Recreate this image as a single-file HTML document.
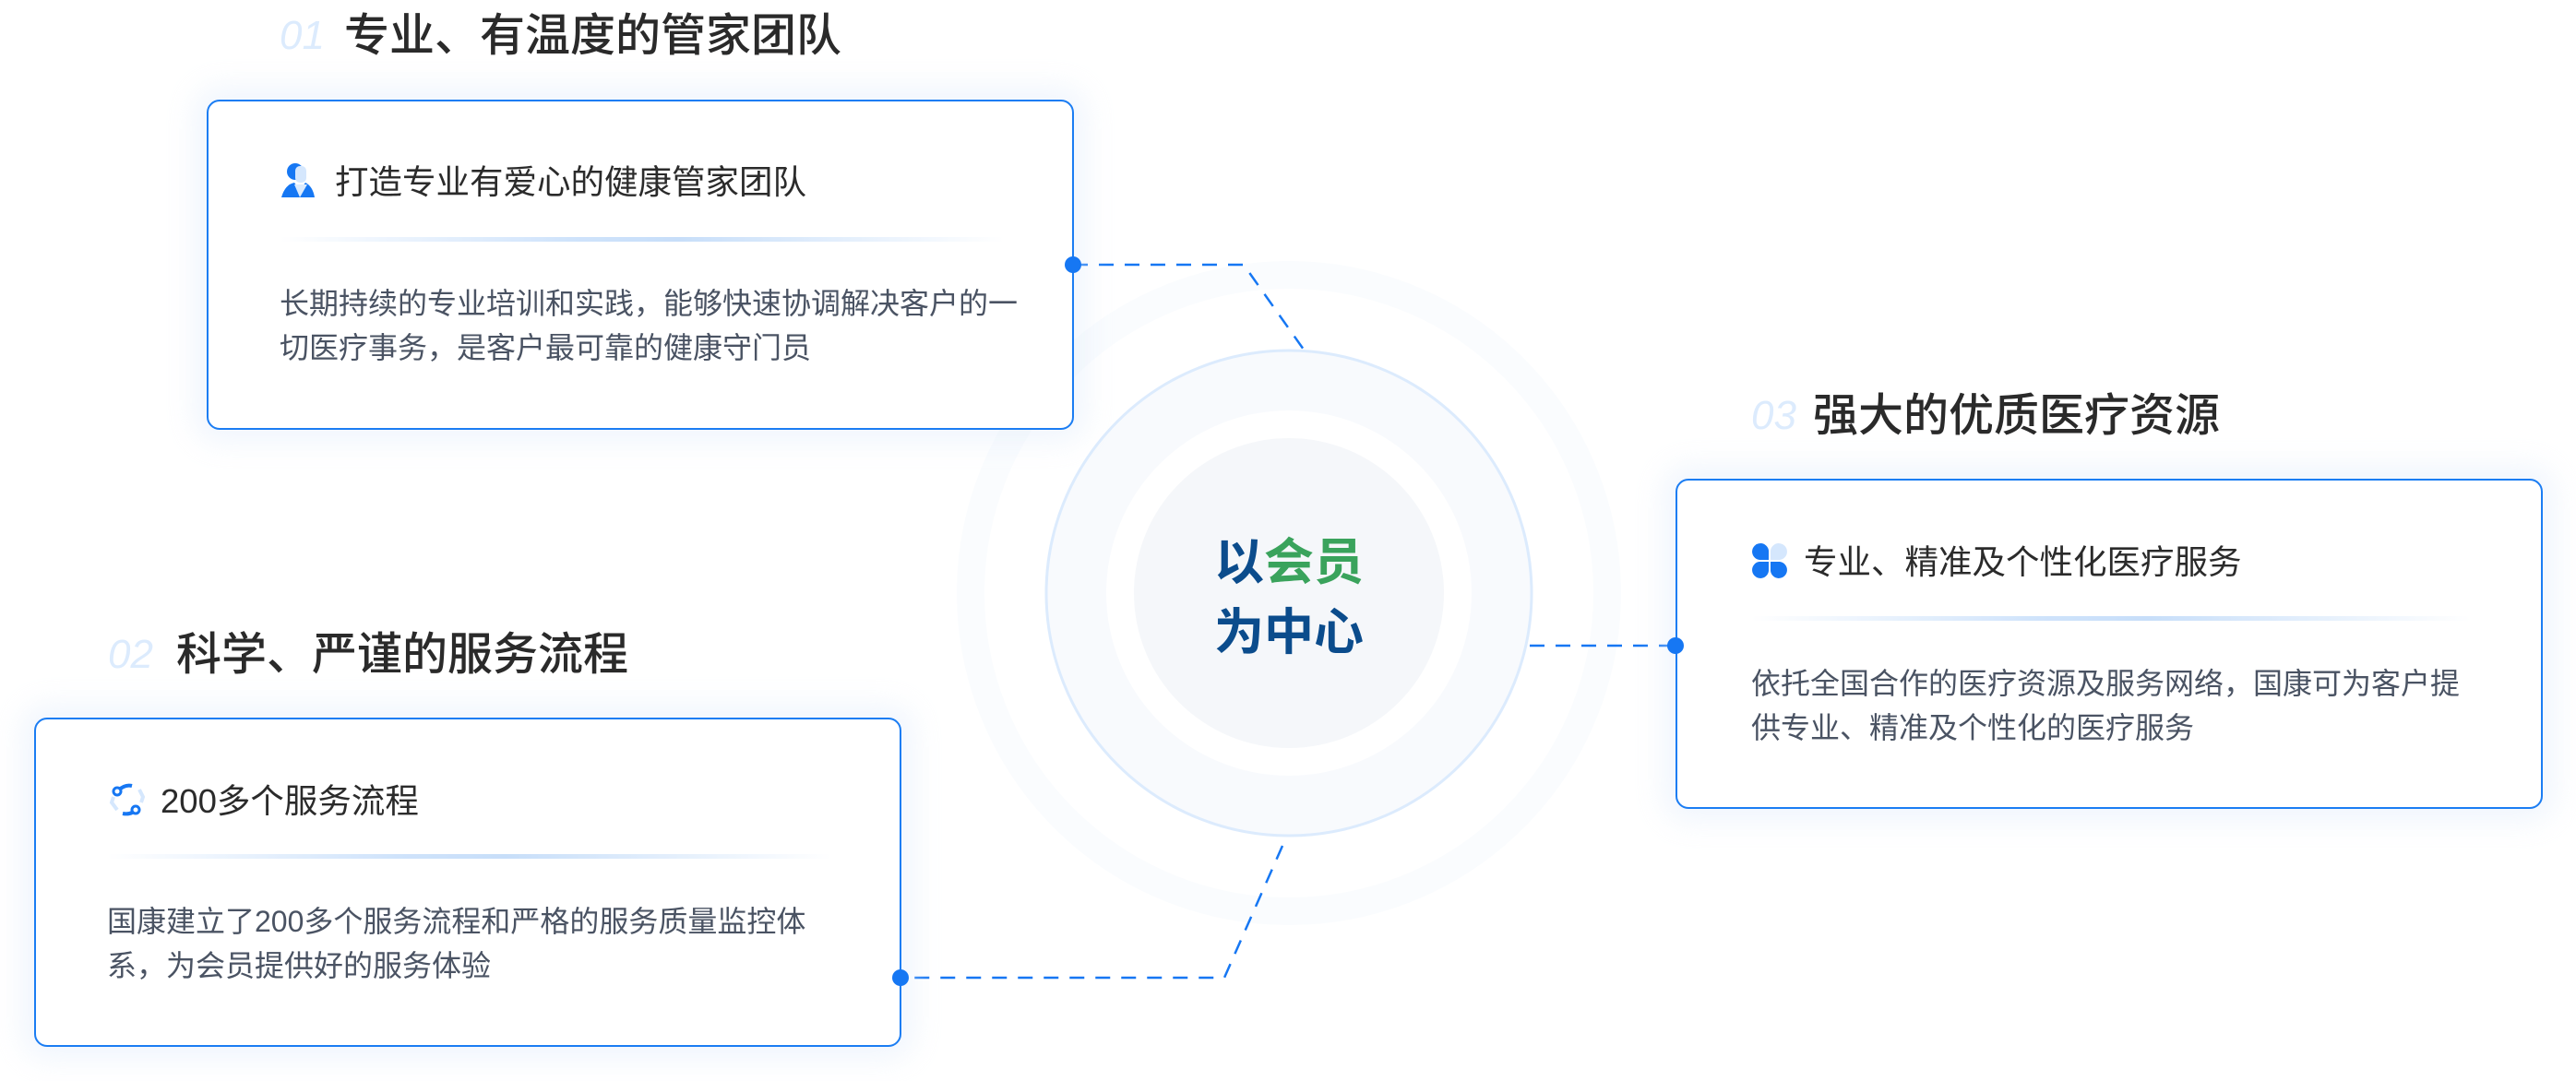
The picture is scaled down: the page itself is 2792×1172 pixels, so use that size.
<!DOCTYPE html>
<html><head><meta charset="utf-8"><style>
body{margin:0;width:2792px;height:1172px;background:#fff;position:relative;overflow:hidden;font-family:"Liberation Sans","Noto Sans CJK SC",sans-serif;}
.a{position:absolute;}
.num{font-family:"Liberation Sans",sans-serif;font-style:italic;color:#dcebfd;font-size:44px;line-height:50px;}
.title{font-size:49px;color:#2a2a2a;line-height:50px;white-space:nowrap;font-weight:500;}
.card{position:absolute;border:2px solid #1b7df3;border-radius:14px;background:#fff;box-shadow:0 0 30px 14px rgba(225,236,250,0.45);box-sizing:border-box;}
.h{font-size:36.5px;color:#2b2b2b;line-height:40px;white-space:nowrap;}
.p{font-size:32px;color:#4a5363;line-height:48px;white-space:nowrap;}
.ln{height:5px;background:linear-gradient(90deg,rgba(220,235,252,0),#cfe3fb 40%,#c7def9 55%,rgba(220,235,252,0));}
.dot{width:18px;height:18px;border-radius:50%;background:#1677f3;}
</style></head><body>

<svg class="a" style="left:0;top:0" width="2792" height="1172">
 <circle cx="1397" cy="643" r="345" fill="none" stroke="#fafcfe" stroke-width="30"/>
 <circle cx="1397" cy="643" r="263" fill="#f8fafd" stroke="#dcebfd" stroke-width="3"/>
 <circle cx="1397" cy="643" r="198" fill="#ffffff"/>
 <circle cx="1397" cy="643" r="168" fill="#f5f7fa"/>
 <g fill="none" stroke="#1677f3" stroke-width="2.5" stroke-dasharray="16 12">
  <polyline points="1163,287 1348,287 1413,379"/>
  <line x1="1658" y1="700" x2="1816" y2="700"/>
  <polyline points="1390,917 1327,1060 976,1060"/>
 </g>
</svg>
<div class="a" style="left:1397px;top:580px;width:0">
 <div class="a" style="left:-95px;top:0;width:190px;text-align:center;font-size:54px;font-weight:bold;line-height:60px;color:#0b4c8c">以<span style="color:#3aa35c">会员</span></div>
 <div class="a" style="left:-95px;top:76px;width:190px;text-align:center;font-size:54px;font-weight:bold;line-height:60px;color:#0b4c8c">为中心</div>
</div>

<!-- card 1 -->
<div class="a num" style="left:303px;top:14px">01</div>
<div class="a title" style="left:373px;top:14px">专业、有温度的管家团队</div>
<div class="card" style="left:224px;top:108px;width:940px;height:358px"></div>
<svg class="a" style="left:303px;top:176px" width="40" height="40"><circle cx="17" cy="10" r="9" fill="#1677f3"/><rect x="17" y="4" width="12" height="18" rx="5" fill="#d5e7fd"/><path d="M2 38 Q6 24 16 22 L22 30 L28 22 Q36 26 38 38Z" fill="#1677f3"/><path d="M16 24 L22 38 L30 24" fill="#dcebfd"/></svg>
<div class="a h" style="left:363px;top:178px">打造专业有爱心的健康管家团队</div>
<div class="a ln" style="left:303px;top:257px;width:785px"></div>
<div class="a p" style="left:303px;top:305px">长期持续的专业培训和实践，能够快速协调解决客户的一<br>切医疗事务，是客户最可靠的健康守门员</div>
<div class="a dot" style="left:1154px;top:278px"></div>

<!-- card 2 -->
<div class="a num" style="left:117px;top:685px">02</div>
<div class="a title" style="left:191px;top:685px">科学、严谨的服务流程</div>
<div class="card" style="left:37px;top:778px;width:940px;height:357px"></div>
<svg class="a" style="left:117px;top:846px" width="42" height="42"><g fill="none" stroke-width="4"><path d="M10 12 Q18 4 26 6" stroke="#1677f3"/><path d="M32 30 Q26 38 16 36" stroke="#1677f3"/><path d="M6 18 L4 24 L10 32" stroke="#d5e7fd"/><path d="M34 10 L38 18 L36 24" stroke="#d5e7fd"/></g><circle cx="10" cy="12" r="4" fill="#fff" stroke="#1677f3" stroke-width="3"/><circle cx="30" cy="32" r="4" fill="#fff" stroke="#1677f3" stroke-width="3"/></svg>
<div class="a h" style="left:174px;top:849px">200多个服务流程</div>
<div class="a ln" style="left:116px;top:926px;width:785px"></div>
<div class="a p" style="left:116px;top:975px">国康建立了200多个服务流程和严格的服务质量监控体<br>系，为会员提供好的服务体验</div>
<div class="a dot" style="left:967px;top:1051px"></div>

<!-- card 3 -->
<div class="a num" style="left:1898px;top:426px">03</div>
<div class="a title" style="left:1965px;top:426px">强大的优质医疗资源</div>
<div class="card" style="left:1816px;top:519px;width:940px;height:358px"></div>
<svg class="a" style="left:1898px;top:588px" width="40" height="40"><path d="M19 19 H9 A9 9 0 1 1 19 9Z" fill="#1677f3"/><path d="M21 19 V9 A9 9 0 1 1 31 19Z" fill="#d5e7fd"/><path d="M19 21 V31 A9 9 0 1 1 9 21Z" fill="#1677f3"/><path d="M21 21 H31 A9 9 0 1 1 21 31Z" fill="#1677f3"/></svg>
<div class="a h" style="left:1955px;top:590px">专业、精准及个性化医疗服务</div>
<div class="a ln" style="left:1898px;top:668px;width:780px"></div>
<div class="a p" style="left:1898px;top:717px">依托全国合作的医疗资源及服务网络，国康可为客户提<br>供专业、精准及个性化的医疗服务</div>
<div class="a dot" style="left:1807px;top:691px"></div>

</body></html>
